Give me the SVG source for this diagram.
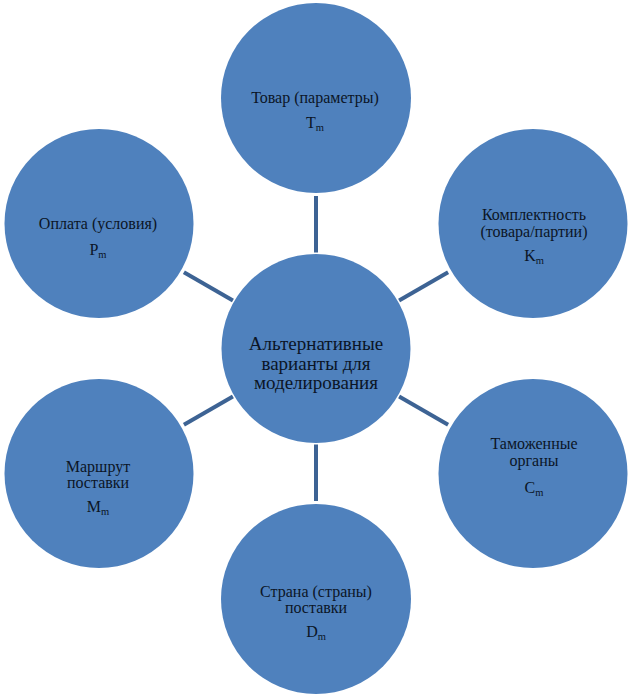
<svg xmlns="http://www.w3.org/2000/svg" width="632" height="699" viewBox="0 0 632 699">
<style>
.node{fill:#4f81bd}
.t{font-family:"Liberation Serif","Times New Roman",serif;font-size:16px;fill:#0b1526;text-anchor:middle}
.c{font-size:19px}
.s{font-size:10.5px}
.conn line{stroke:#3d6394;stroke-width:4}
</style>
<rect width="632" height="699" fill="#ffffff"/>
<g id="connectors" class="conn">
<line x1="316" y1="252.5" x2="316" y2="196"/>
<line x1="399.1" y1="300.5" x2="448.1" y2="272.3"/>
<line x1="399.1" y1="396.5" x2="448.1" y2="424.8"/>
<line x1="316" y1="444.5" x2="316" y2="501"/>
<line x1="232.9" y1="396.5" x2="183.9" y2="424.8"/>
<line x1="232.9" y1="300.5" x2="183.9" y2="272.3"/>
</g>
<g id="center">
<circle class="node" cx="316" cy="348.5" r="94.5"/>
<text class="t c" x="316" y="350">Альтернативные</text>
<text class="t c" x="316" y="370">варианты для</text>
<text class="t c" x="316" y="389">моделирования</text>
</g>
<g id="tovar">
<circle class="node" cx="316" cy="98" r="95"/>
<text class="t" x="315" y="103">Товар (параметры)</text>
<text class="t" x="315" y="128">T<tspan class="s" dy="3">m</tspan></text>
</g>
<g id="komplektnost">
<circle class="node" cx="533" cy="223.5" r="94.5"/>
<text class="t" x="534" y="220">Комплектность</text>
<text class="t" x="534" y="237">(товара/партии)</text>
<text class="t" x="534" y="261">K<tspan class="s" dy="3">m</tspan></text>
</g>
<g id="tamozhennye">
<circle class="node" cx="533" cy="473.5" r="94.5"/>
<text class="t" x="534" y="449">Таможенные</text>
<text class="t" x="534" y="466">органы</text>
<text class="t" x="534" y="493">C<tspan class="s" dy="3">m</tspan></text>
</g>
<g id="strana">
<circle class="node" cx="316" cy="599" r="95"/>
<text class="t" x="316" y="597">Страна (страны)</text>
<text class="t" x="316" y="613">поставки</text>
<text class="t" x="316" y="637">D<tspan class="s" dy="3">m</tspan></text>
</g>
<g id="marshrut">
<circle class="node" cx="99" cy="473.5" r="94.5"/>
<text class="t" x="98" y="472">Маршрут</text>
<text class="t" x="98" y="488">поставки</text>
<text class="t" x="98" y="512">M<tspan class="s" dy="3">m</tspan></text>
</g>
<g id="oplata">
<circle class="node" cx="99" cy="223.5" r="94.5"/>
<text class="t" x="98" y="229">Оплата (условия)</text>
<text class="t" x="98" y="255">P<tspan class="s" dy="3">m</tspan></text>
</g>
</svg>
